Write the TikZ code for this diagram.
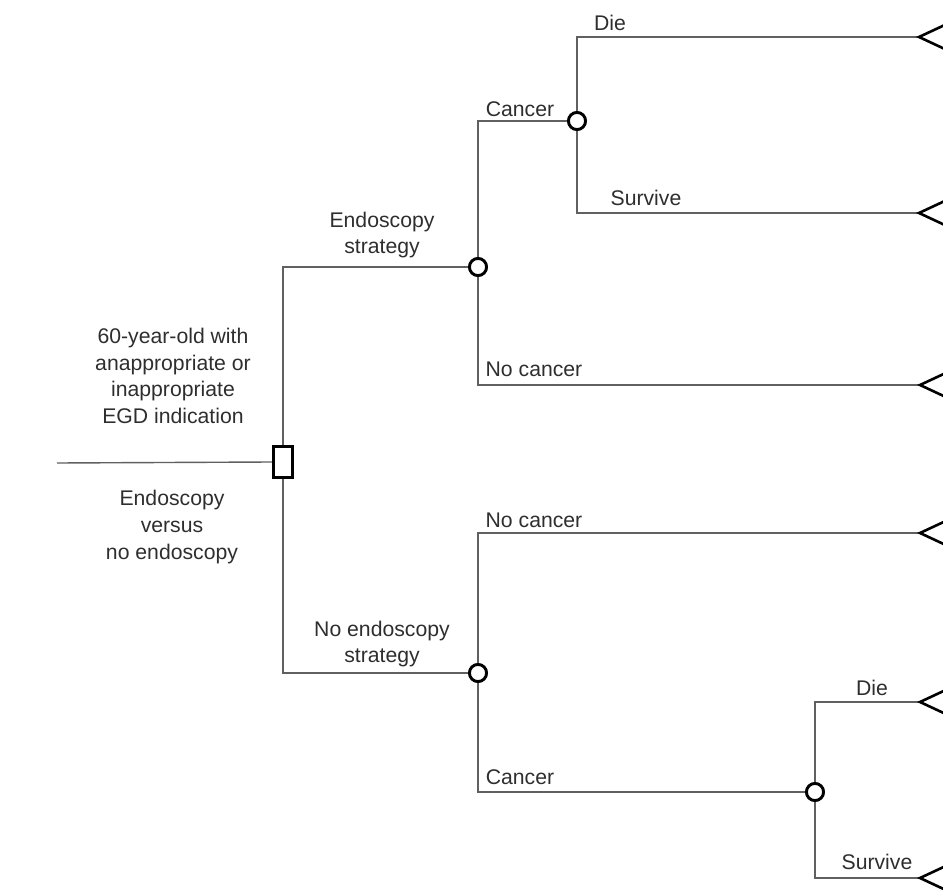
\documentclass[tikz,border=0pt]{standalone}
\usepackage{fontspec}
\setmainfont{Liberation Sans}
\definecolor{linegray}{HTML}{606060}
\definecolor{txtgray}{HTML}{2E2E2E}
\begin{document}
\begin{tikzpicture}[x=0.5pt,y=-0.5pt,
  chance/.style={circle,draw=black,line width=1.4pt,fill=white,minimum size=8.5pt,inner sep=0pt},
  decision/.style={rectangle,draw=black,line width=1.7pt,fill=white,minimum width=9.5pt,minimum height=15.5pt,inner sep=0pt},
  branch/.style={draw=linegray,line width=0.7pt},
  termtri/.style={draw=black,line width=1.3pt,line join=miter},
  lbl/.style={text=txtgray,font=\fontsize{10.6}{13.4}\selectfont,inner sep=0pt,align=center}]
\useasboundingbox (0,0) rectangle (943,893);
% nodes
\coordinate (r) at (57,463);
\node[decision] (s) at (283,462) {};
\node[chance] (c1) at (478,267) {};
\node[chance] (c2) at (577,121) {};
\node[chance] (c3) at (478,673) {};
\node[chance] (c4) at (815,792) {};
\coordinate (t1) at (919,37);
\coordinate (t2) at (919,213);
\coordinate (t3) at (920,385);
\coordinate (t4) at (920,533);
\coordinate (t5) at (920,702);
\coordinate (t6) at (920,878);
% branches
\path[branch] (r) -- (s.west);
\path[branch] (s.north) |- (c1.west);
\path[branch] (s.south) |- (c3.west);
\path[branch] (c1.north) |- (c2.west);
\path[branch] (c1.south) |- (t3);
\path[branch] (c2.north) |- (t1);
\path[branch] (c2.south) |- (t2);
\path[branch] (c3.north) |- (t4);
\path[branch] (c3.south) |- (c4.west);
\path[branch] (c4.north) |- (t5);
\path[branch] (c4.south) |- (t6);
% redraw node shapes on top
\node[decision] at (s) {};
\node[chance] at (c1) {};
\node[chance] at (c2) {};
\node[chance] at (c3) {};
\node[chance] at (c4) {};
% terminal triangles
\foreach \t in {t1,t2,t3,t4,t5,t6}{
  \draw[termtri,fill=white] (\t) -- ++(30,-14) -- ++(0,28) -- cycle;
}
% labels
\node[lbl] (l0) at (173,376) {60-year-old with\\anappropriate or\\inappropriate\\EGD indication};
\node[lbl] (l00) at (172,527) {Endoscopy\\versus\\no endoscopy};
\node[lbl] (l1) at (382,235) {Endoscopy\\strategy};
\node[lbl] (l2) at (382,644) {No endoscopy\\strategy};
\node[lbl] (l3) at (520,109) {Cancer};
\node[lbl] (l4) at (534,369) {No cancer};
\node[lbl] (l5) at (610,23) {Die};
\node[lbl] (l6) at (646,198) {Survive};
\node[lbl] (l7) at (534,520) {No cancer};
\node[lbl] (l8) at (520,777) {Cancer};
\node[lbl] (l9) at (872,688) {Die};
\node[lbl] (l10) at (877,862) {Survive};
\end{tikzpicture}
\end{document}
